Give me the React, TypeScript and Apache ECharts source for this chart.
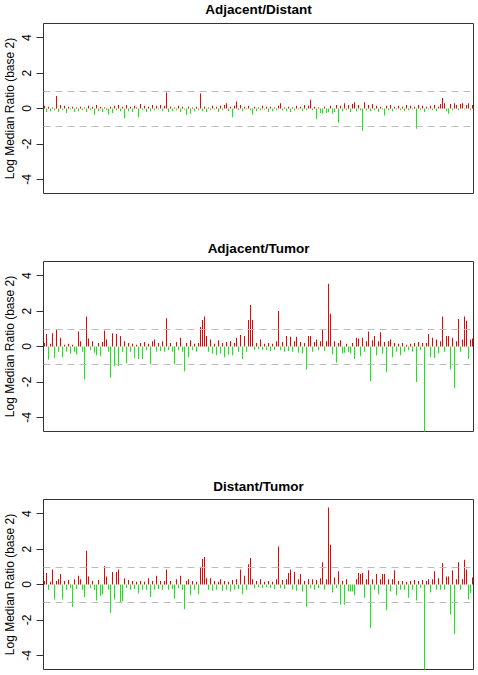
import React, { useEffect, useRef } from "react";
import * as echarts from "echarts";

const titles = ["Adjacent/Distant", "Adjacent/Tumor", "Distant/Tumor"];
const yAxisTitle = "Log Median Ratio (base 2)";
const yTicks = [-4, -2, 0, 2, 4];
const thresholds = [1, -1];

const adjacentDistant = [
  0.15, -0.2, 0.1, -0.15, 0.05, -0.1, 0.7, -0.2, 0.2, -0.1, 0.15, -0.25, 0.1, -0.05, 0.1, -0.2, 0.05, -0.15, 0.1, -0.1,
  0.05, -0.2, 0.15, -0.1, 0.1, -0.35, 0.2, -0.15, 0.1, -0.2, 0.05, -0.1, -0.35, 0.1, -0.25, 0.15, -0.1, 0.2, -0.15, 0.1,
  -0.55, 0.2, -0.15, 0.1, -0.2, 0.15, 0.05, -0.5, 0.25, -0.1, 0.15, -0.2, 0.1, -0.15, 0.2, -0.1, 0.15, -0.05, 0.2, -0.15,
  0.15, 0.9, -0.2, 0.1, -0.15, 0.05, -0.1, 0.15, -0.2, 0.1, -0.05, -0.35, 0.1, -0.3, 0.05, -0.15, 0.1, -0.1, 0.85, -0.15,
  0.1, -0.2, 0.05, -0.1, 0.15, -0.05, 0.1, -0.2, 0.15, -0.1, 0.2, 0.3, -0.15, 0.1, -0.5, 0.15, 0.4, -0.1, 0.2, -0.15,
  0.1, -0.05, 0.15, -0.1, -0.35, 0.1, -0.15, 0.05, -0.1, 0.15, -0.05, 0.1, -0.2, 0.1, -0.15, 0.05, -0.1, 0.15, 0.3, -0.1,
  0.05, -0.15, 0.1, -0.2, 0.05, -0.1, 0.15, -0.05, 0.1, -0.15, 0.2, -0.1, 0.15, 0.5, -0.1, 0.1, -0.6, 0.05, -0.25, -0.3,
  0.1, -0.25, -0.2, 0.15, -0.3, -0.2, 0.2, -0.8, 0.15, -0.15, 0.3, -0.1, 0.2, -0.2, 0.25, 0.35, -0.15, 0.2, -0.1, -1.25,
  0.35, -0.1, 0.2, -0.15, 0.25, -0.1, 0.15, -0.2, 0.1, -0.05, -0.4, 0.15, -0.1, 0.2, -0.15, 0.1, -0.05, 0.15, -0.1, 0.1,
  -0.15, 0.2, -0.1, 0.15, -0.05, 0.1, -1.15, 0.2, -0.1, 0.15, -0.2, 0.1, -0.05, 0.15, -0.1, 0.2, -0.15, 0.1, 0.25, 0.6,
  0.3, -0.15, -0.3, 0.25, -0.1, 0.3, 0.2, -0.1, 0.25, 0.3, -0.05, 0.2, 0.3, -0.1, 0.2,
];

const adjacentTumor = [
  0.2, 0.7, -0.75, 0.15, 0.75, -0.65, 0.95, -0.3, 0.5, -0.6, 0.1, -0.3, 0.15, -0.4, 0.1, -0.3, -0.45, 0.85, 0.3, -0.3,
  -1.85, 1.7, 0.45, -0.2, 0.3, -0.35, -0.5, 0.2, -0.55, 0.25, 0.9, 0.4, -0.3, -1.75, 0.75, -1.1, 0.7, -1.1, 0.6, -0.3,
  0.3, -0.95, 0.2, -0.3, 0.15, -0.65, 0.1, -0.7, 0.2, -0.7, 0.25, -0.2, 0.15, -1.0, 0.3, 0.4, -0.3, 0.2, -0.25, 0.3,
  -0.3, 1.6, -0.2, 0.2, -0.3, -1.0, 0.25, -0.2, 0.5, -0.3, -1.4, 0.2, -0.6, 0.35, -0.2, 0.15, -0.3, 0.2, 1.1, 1.5,
  1.7, 0.6, -0.3, 0.4, -0.4, 0.15, -0.5, 0.35, -0.4, 0.2, -0.6, 0.25, -0.45, 0.3, -0.5, 0.2, 0.5, -0.3, 0.65, -0.7,
  0.6, -0.3, 1.5, 2.35, 1.5, -0.2, 0.2, -0.15, 0.4, -0.2, 0.15, -0.2, 0.2, -0.25, 0.15, -0.2, 0.3, 2.0, -0.2, 0.25,
  -0.3, 0.6, -0.25, 0.55, -0.3, 0.3, 0.55, -0.35, 0.25, -0.4, 0.2, -1.3, 0.6, 0.6, -0.3, 0.25, 0.4, -0.2, 0.3, 0.95,
  -0.25, 0.3, 3.55, 1.85, -0.45, 0.3, -0.9, 0.2, 0.35, -0.4, -0.35, 0.15, -0.3, -0.4, 0.2, -0.7, 0.5, 0.45, -0.55, 0.5,
  -0.3, 0.3, 0.85, -1.95, 0.35, 0.6, -0.5, 0.3, 0.8, -0.4, 0.25, -1.45, 0.3, 0.4, -0.6, 0.2, -0.3, 0.15, -0.5, 0.2,
  -0.3, 0.1, -0.2, 0.15, -0.3, 0.2, -2.0, 0.25, -0.2, 0.2, -4.8, 0.2, 0.7, -0.6, 0.5, -0.65, 0.4, -0.4, 0.3, 1.7,
  -0.3, 0.6, 0.6, -1.3, 0.5, -2.35, 0.3, 1.55, -0.3, 0.4, 1.7, 1.45, -0.7, 0.4, 0.45,
];

const distantTumor = [
  0.2, 0.65, -0.3, 0.15, 0.85, -0.85, 0.2, 0.3, 0.6, -0.85, 0.2, -0.3, 0.25, -0.2, -1.25, 0.3, -0.25, 0.5, 0.3, -0.3,
  -0.7, 1.9, 0.45, -0.2, 0.2, -0.3, -0.9, 0.25, -0.65, -0.55, 1.05, 0.45, -0.3, -1.6, 0.7, -0.85, 0.7, 0.85, -1.0, -0.95,
  0.35, -0.2, 0.25, -0.3, 0.2, -0.25, 0.15, -0.5, 0.2, -0.3, 0.15, -0.3, 0.35, -0.7, 0.2, -0.3, 0.5, -0.25, 0.2, -0.3,
  0.2, 0.85, -0.3, 0.2, -0.25, -0.8, 0.3, -0.2, 0.5, -0.3, -1.4, 0.2, 0.3, -0.6, 0.2, -0.3, 0.15, -0.55, 1.0, 1.45,
  1.55, 0.35, -0.3, 0.35, -0.35, 0.2, -0.3, 0.15, 0.3, -0.35, 0.2, -0.3, 0.15, -0.4, 0.25, -0.3, 0.3, -0.25, 0.85, -0.55,
  0.5, -0.3, 1.15, 1.5, 0.3, -0.2, 0.2, -0.15, 0.3, -0.2, 0.15, -0.15, 0.2, -0.2, 0.15, -0.25, 0.3, 2.15, -0.2, 0.25,
  -0.25, 0.3, 0.65, 0.85, -0.3, 0.7, -0.35, 0.3, 0.6, -0.4, 0.2, -1.25, 0.3, -0.2, 0.3, -0.3, 0.25, -0.2, 0.35, 1.25,
  -0.3, 0.3, 4.35, 2.25, -0.45, 0.4, -0.2, 0.75, -1.15, 0.2, -1.15, 0.3, -0.4, -0.4, -0.4, -0.6, 0.3, 0.65, 0.6, 0.65,
  -0.75, 0.3, 0.8, -2.45, 0.3, -0.3, 0.6, -0.55, 0.3, 0.6, 0.6, -1.45, 0.3, -0.4, 0.3, 0.8, -0.6, 0.2, -0.3, 0.2,
  -0.3, 0.15, -0.75, 0.2, -0.3, 0.25, -0.9, 0.2, -0.2, 0.25, -4.8, 0.2, 0.3, -0.45, 0.3, 0.75, -0.3, 0.35, -0.3, 1.2,
  -0.3, 0.45, 0.45, -1.7, 0.8, -2.8, 0.3, 1.25, -0.3, 0.3, 1.4, 0.85, -0.85, -0.5, 0.4,
];

const panelData = [adjacentDistant, adjacentTumor, distantTumor];

const W = 478;
const H = 675;
const FONT = "Liberation Sans, Arial, Helvetica, sans-serif";
const PLOT_LEFT = 43.5;
const PLOT_RIGHT = 4.5;
const PLOT_HEIGHT = 170;
const PLOT_TOPS = [23.5, 261.5, 499.5];
const TITLE_Y = [9, 248, 486];
const YTITLE_X = 10;

export default function App() {
  const ref = useRef<HTMLDivElement>(null);

  useEffect(() => {
    document.body.style.margin = "0";
    if (!ref.current) return;
    const chart = echarts.init(ref.current, null, { renderer: "svg" });

    const grids = PLOT_TOPS.map((top) => ({
      left: PLOT_LEFT,
      right: PLOT_RIGHT,
      top,
      height: PLOT_HEIGHT,
      show: true,
      borderColor: "#333",
      borderWidth: 1,
      backgroundColor: "transparent",
      containLabel: false,
      outerBoundsMode: "none",
    }));

    const xAxes = panelData.map((d, i) => ({
      type: "category" as const,
      gridIndex: i,
      data: d.map((_, k) => String(k + 1)),
      show: false,
      boundaryGap: true,
    }));

    const yAxes = panelData.map((_, i) => ({
      type: "value" as const,
      gridIndex: i,
      min: -4.8,
      max: 4.8,
      axisLine: { show: false },
      axisTick: {
        show: true,
        length: 7,
        customValues: yTicks,
        lineStyle: { color: "#333" },
      },
      axisLabel: {
        show: true,
        customValues: yTicks,
        rotate: 90,
        margin: 11,
        fontFamily: FONT,
        fontSize: 12,
        color: "#000",
      },
      splitLine: { show: false },
    }));

    const series = panelData.map((d, i) => ({
      type: "bar" as const,
      xAxisIndex: i,
      yAxisIndex: i,
      data: d,
      barWidth: 1,
      itemStyle: {
        color: (p: any) => (p.value >= 0 ? "#f00000" : "#10ee10"),
      },
      markLine: {
        silent: true,
        symbol: "none",
        label: { show: false },
        lineStyle: { color: "#bdbdbd", type: [7, 5], width: 1 },
        data: thresholds.map((t) => ({ yAxis: t })),
      },
    }));

    const titleTexts = titles.map((t, i) => ({
      type: "text" as const,
      x: PLOT_LEFT + (W - PLOT_LEFT - PLOT_RIGHT) / 2,
      y: TITLE_Y[i],
      style: {
        text: t,
        fontFamily: FONT,
        fontSize: 13.5,
        fontWeight: "bold",
        fill: "#000",
        textAlign: "center",
        textVerticalAlign: "middle",
      },
    }));

    const yTitleTexts = PLOT_TOPS.map((top) => ({
      type: "text" as const,
      x: YTITLE_X,
      y: top + PLOT_HEIGHT / 2,
      rotation: Math.PI / 2,
      style: {
        text: yAxisTitle,
        fontFamily: FONT,
        fontSize: 12,
        fill: "#000",
        textAlign: "center",
        textVerticalAlign: "middle",
      },
    }));

    chart.setOption({
      animation: false,
      backgroundColor: "#fff",
      grid: grids,
      xAxis: xAxes,
      yAxis: yAxes,
      series,
      graphic: [...titleTexts, ...yTitleTexts],
    });

    return () => {
      chart.dispose();
    };
  }, []);

  return <div ref={ref} style={{ width: W, height: H }} />;
}
